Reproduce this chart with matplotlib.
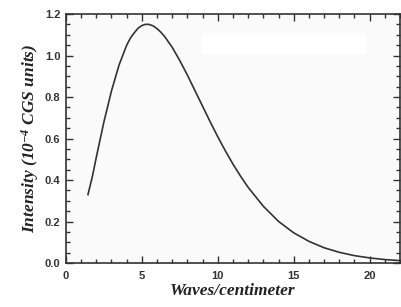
import matplotlib
matplotlib.use('Agg')
import matplotlib.pyplot as plt
from matplotlib.ticker import MultipleLocator, FormatStrFormatter
from matplotlib.patches import Rectangle

# spectrum
waves = [1.45, 1.75, 2.0, 2.5, 3.0, 3.5, 4.0, 4.25, 4.5, 4.75, 5.0, 5.25,
         5.5, 5.75, 6.0, 6.25, 6.5, 7.0, 7.5, 8.0, 8.5, 9.0, 9.5, 10.0,
         10.5, 11.0, 11.5, 12.0, 13.0, 14.0, 15.0, 16.0, 17.0, 18.0, 19.0,
         20.0, 21.0, 22.0]
intensity = [0.33, 0.42, 0.51, 0.68, 0.83, 0.955, 1.05, 1.085, 1.11, 1.132,
             1.145, 1.151, 1.15, 1.143, 1.13, 1.113, 1.092, 1.04, 0.976,
             0.906, 0.831, 0.756, 0.681, 0.609, 0.541, 0.477, 0.419, 0.365,
             0.274, 0.201, 0.146, 0.105, 0.074, 0.052, 0.036, 0.025, 0.017,
             0.012]

plt.rcParams['mathtext.fontset'] = 'custom'
plt.rcParams['mathtext.rm'] = 'Liberation Serif:bold:italic'
plt.rcParams['mathtext.it'] = 'Liberation Serif:bold:italic'
plt.rcParams['mathtext.bf'] = 'Liberation Serif:bold:italic'

fig = plt.figure(figsize=(4.02, 3.07), dpi=100)
fig.patch.set_facecolor('white')
ax = fig.add_axes([0.164, 0.143, 0.831, 0.811])
ax.set_facecolor('#fafafa')

# blank box in the upper right (erased legend)
ax.add_patch(Rectangle((0.405, 0.84), 0.495, 0.085, transform=ax.transAxes,
                       facecolor='white', edgecolor='none', zorder=1))

ax.plot(waves, intensity, color='#333333', lw=1.2, zorder=3)

ax.set_xlim(0, 22)
ax.set_ylim(0, 1.2)
ax.xaxis.set_major_locator(MultipleLocator(5))
ax.xaxis.set_minor_locator(MultipleLocator(1))
ax.yaxis.set_major_locator(MultipleLocator(0.2))
ax.yaxis.set_minor_locator(MultipleLocator(0.05))
ax.yaxis.set_major_formatter(FormatStrFormatter('%.1f'))

ax.tick_params(which='both', direction='in', top=True, right=True,
               color='#333333', width=1.0)
ax.tick_params(which='major', length=5, labelsize=8, pad=4)
ax.tick_params(axis='x', which='major', pad=6)
ax.tick_params(which='minor', length=3)
for lab in ax.get_xticklabels() + ax.get_yticklabels():
    lab.set_fontfamily('Liberation Sans')
    lab.set_fontweight('bold')
    lab.set_color('#333333')

for sp in ax.spines.values():
    sp.set_color('#333333')
    sp.set_linewidth(1.2)

ax.set_xlabel('Waves/centimeter', family='Liberation Serif', weight='bold',
              style='italic', fontsize=12.5, labelpad=1, color='#222222')
ax.set_ylabel(r'Intensity (10$^{-4}$ CGS units)', family='Liberation Serif',
              weight='bold', style='italic', fontsize=12.5, labelpad=3,
              color='#222222')

fig.savefig('out.png', dpi=100)
